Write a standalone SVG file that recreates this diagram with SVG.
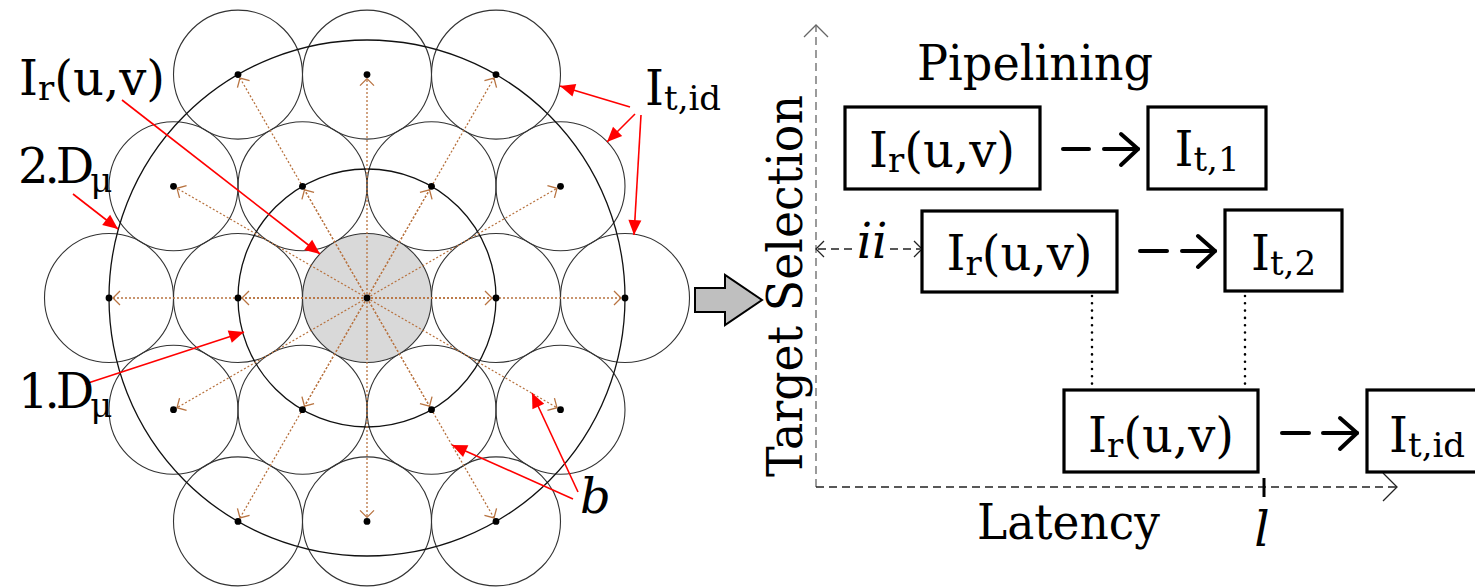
<svg xmlns="http://www.w3.org/2000/svg" width="1475" height="587" viewBox="0 0 1475 587">
<style>
.sc{fill:none;stroke:#333;stroke-width:1.1}
.gray{fill:#d9d9d9;stroke:#333;stroke-width:1.1}
.big{fill:none;stroke:#111;stroke-width:1.3}
.dot{fill:#000}
.br{stroke:#b87340;stroke-width:1.3;stroke-dasharray:2 2;fill:none;marker-end:url(#bh)}
.red{stroke:#f00;stroke-width:1.6;fill:none;marker-end:url(#rh)}
text{font-family:'DejaVu Serif','Liberation Serif',serif;font-size:48px;fill:#000}
.it{font-style:italic}
.box{fill:#fff;stroke:#000;stroke-width:3.2}
.thk{stroke:#000;stroke-width:4;fill:none;stroke-linecap:round;stroke-linejoin:round}
.ax{fill:none;stroke-width:1.3;stroke-dasharray:8 5}
.axh{fill:none;stroke-width:1.3}
.dots{stroke:#000;stroke-width:2.6;stroke-linecap:round;stroke-dasharray:0 7.3;fill:none}
</style>
<defs>
<marker id="bh" markerUnits="userSpaceOnUse" markerWidth="20" markerHeight="20" viewBox="-10 -10 20 20" refX="0" refY="0" orient="auto" overflow="visible"><path d="M-7,-7 L0,0 L-7,7" fill="none" stroke="#b87340" stroke-width="1.3" stroke-dasharray="none"/></marker>
<marker id="rh" markerUnits="userSpaceOnUse" markerWidth="20" markerHeight="20" viewBox="-16 -8 20 16" refX="0" refY="0" orient="auto" overflow="visible"><path d="M0,0 L-15,-6.5 L-15,6.5 z" fill="#f00" stroke="none"/></marker>
</defs>
<rect width="1475" height="587" fill="#fff"/>

<g id="cells">
<circle class="sc" cx="238" cy="74.6" r="64.5"/>
<circle class="sc" cx="367" cy="74.6" r="64.5"/>
<circle class="sc" cx="496" cy="74.6" r="64.5"/>
<circle class="sc" cx="173.5" cy="186.3" r="64.5"/>
<circle class="sc" cx="302.5" cy="186.3" r="64.5"/>
<circle class="sc" cx="431.5" cy="186.3" r="64.5"/>
<circle class="sc" cx="560.5" cy="186.3" r="64.5"/>
<circle class="sc" cx="109" cy="298" r="64.5"/>
<circle class="sc" cx="238" cy="298" r="64.5"/>
<circle class="sc" cx="496" cy="298" r="64.5"/>
<circle class="sc" cx="625" cy="298" r="64.5"/>
<circle class="sc" cx="173.5" cy="409.7" r="64.5"/>
<circle class="sc" cx="302.5" cy="409.7" r="64.5"/>
<circle class="sc" cx="431.5" cy="409.7" r="64.5"/>
<circle class="sc" cx="560.5" cy="409.7" r="64.5"/>
<circle class="sc" cx="238" cy="521.4" r="64.5"/>
<circle class="sc" cx="367" cy="521.4" r="64.5"/>
<circle class="sc" cx="496" cy="521.4" r="64.5"/>
</g>
<g id="center-cell"><circle class="gray" cx="367" cy="298" r="64.5"/></g>
<g id="rings">
<circle class="big" cx="367" cy="298" r="129"/>
<circle class="big" cx="367" cy="298" r="258"/>
</g>
<g id="brown-arrows">
<line class="br" x1="367" y1="298" x2="492" y2="298"/>
<line class="br" x1="367" y1="298" x2="429.5" y2="189.8"/>
<line class="br" x1="367" y1="298" x2="304.5" y2="189.8"/>
<line class="br" x1="367" y1="298" x2="242" y2="298"/>
<line class="br" x1="367" y1="298" x2="304.5" y2="406.2"/>
<line class="br" x1="367" y1="298" x2="429.5" y2="406.2"/>
<line class="br" x1="367" y1="298" x2="621" y2="298"/>
<line class="br" x1="367" y1="298" x2="494" y2="78.1"/>
<line class="br" x1="367" y1="298" x2="240" y2="78.1"/>
<line class="br" x1="367" y1="298" x2="113" y2="298"/>
<line class="br" x1="367" y1="298" x2="240" y2="517.9"/>
<line class="br" x1="367" y1="298" x2="494" y2="517.9"/>
<line class="br" x1="367" y1="298" x2="557" y2="188.3"/>
<line class="br" x1="367" y1="298" x2="367" y2="78.6"/>
<line class="br" x1="367" y1="298" x2="177" y2="188.3"/>
<line class="br" x1="367" y1="298" x2="177" y2="407.7"/>
<line class="br" x1="367" y1="298" x2="367" y2="517.4"/>
<line class="br" x1="367" y1="298" x2="557" y2="407.7"/>
</g>
<g id="dots">
<circle class="dot" cx="367" cy="298" r="3.4"/>
<circle class="dot" cx="238" cy="74.6" r="3.4"/>
<circle class="dot" cx="367" cy="74.6" r="3.4"/>
<circle class="dot" cx="496" cy="74.6" r="3.4"/>
<circle class="dot" cx="173.5" cy="186.3" r="3.4"/>
<circle class="dot" cx="302.5" cy="186.3" r="3.4"/>
<circle class="dot" cx="431.5" cy="186.3" r="3.4"/>
<circle class="dot" cx="560.5" cy="186.3" r="3.4"/>
<circle class="dot" cx="109" cy="298" r="3.4"/>
<circle class="dot" cx="238" cy="298" r="3.4"/>
<circle class="dot" cx="496" cy="298" r="3.4"/>
<circle class="dot" cx="625" cy="298" r="3.4"/>
<circle class="dot" cx="173.5" cy="409.7" r="3.4"/>
<circle class="dot" cx="302.5" cy="409.7" r="3.4"/>
<circle class="dot" cx="431.5" cy="409.7" r="3.4"/>
<circle class="dot" cx="560.5" cy="409.7" r="3.4"/>
<circle class="dot" cx="238" cy="521.4" r="3.4"/>
<circle class="dot" cx="367" cy="521.4" r="3.4"/>
<circle class="dot" cx="496" cy="521.4" r="3.4"/>
</g>
<g id="red-arrows">
<line class="red" x1="122" y1="100" x2="320" y2="254"/>
<line class="red" x1="73" y1="194" x2="118" y2="229"/>
<line class="red" x1="85" y1="384" x2="244" y2="332"/>
<line class="red" x1="630" y1="107" x2="560" y2="86"/>
<line class="red" x1="635" y1="114" x2="607" y2="142"/>
<line class="red" x1="641" y1="115" x2="634" y2="235"/>
<line class="red" x1="578" y1="492" x2="532" y2="393"/>
<line class="red" x1="573" y1="499" x2="452" y2="445"/>
</g>
<g id="left-labels">
<text x="19" y="95">I<tspan font-size="34" dy="5">r</tspan><tspan dy="-5">(u,v)</tspan></text>
<text x="18" y="183"><tspan letter-spacing="-4">2.D</tspan><tspan dy="9" font-size="34">μ</tspan></text>
<text x="18" y="408"><tspan letter-spacing="-4">1.D</tspan><tspan dy="9" font-size="34">μ</tspan></text>
<text x="645" y="105">I<tspan font-size="34" dy="5">t,id</tspan></text>
<text class="it" x="580" y="513" font-size="46">b</text>
</g>
<g id="block-arrow"><polygon points="695,288 725,288 725,275 762,300 725,325 725,312 695,312" fill="#bfbfbf" stroke="#000" stroke-width="2" stroke-linejoin="miter"/></g>

<g id="axes">
<line class="ax" x1="816" y1="487" x2="816" y2="26" stroke="#666"/>
<polyline class="axh" points="804,37 816,25 828,37" stroke="#666"/>
<line class="ax" x1="816" y1="487" x2="1396" y2="487" stroke="#222"/>
<polyline class="axh" points="1383,473 1397,487 1383,501" stroke="#222"/>
<line x1="1264" y1="478" x2="1264" y2="497" stroke="#000" stroke-width="3"/>
<text transform="translate(802,477) rotate(-90)" x="0" y="0" textLength="382" lengthAdjust="spacingAndGlyphs">Target Selection</text>
<text x="977" y="539" textLength="183" lengthAdjust="spacingAndGlyphs">Latency</text>
<text class="it" x="1262" y="546" text-anchor="middle">l</text>
<text x="917" y="80" textLength="236" lengthAdjust="spacingAndGlyphs">Pipelining</text>
</g>

<g id="connectors">
<line class="ax" x1="818" y1="249" x2="855" y2="249" stroke="#222" stroke-width="1.2"/>
<line class="ax" x1="890" y1="249" x2="920" y2="249" stroke="#222" stroke-width="1.2"/>
<polyline class="axh" points="824,241 816,249 824,257" stroke="#222"/>
<polyline class="axh" points="914,241 922,249 914,257" stroke="#222"/>
<text class="it" x="872" y="258" text-anchor="middle">ii</text>
<line class="thk" x1="1063" y1="149" x2="1089" y2="149"/>
<line class="thk" x1="1104" y1="149" x2="1138" y2="149"/>
<polyline class="thk" points="1121,134 1138,149 1121,165"/>
<line class="thk" x1="1140" y1="251" x2="1167" y2="251"/>
<line class="thk" x1="1182" y1="251" x2="1215" y2="251"/>
<polyline class="thk" points="1198,236 1215,251 1198,267"/>
<line class="thk" x1="1282" y1="433" x2="1309" y2="433"/>
<line class="thk" x1="1323" y1="433" x2="1357" y2="433"/>
<polyline class="thk" points="1340,418 1357,433 1340,449"/>
<line class="dots" x1="1092" y1="296" x2="1092" y2="388"/>
<line class="dots" x1="1245" y1="296" x2="1245" y2="388"/>
</g>

<g id="box-r1">
<rect class="box" x="845" y="107" width="195" height="82"/>
<text x="942" y="167" text-anchor="middle">I<tspan font-size="34" dy="5">r</tspan><tspan dy="-5">(u,v)</tspan></text>
</g>
<g id="box-t1">
<rect class="box" x="1148" y="107" width="118" height="82"/>
<text x="1207" y="166" text-anchor="middle">I<tspan font-size="34" dy="5">t,1</tspan></text>
</g>
<g id="box-r2">
<rect class="box" x="922" y="211" width="195" height="81"/>
<text x="1019.5" y="270" text-anchor="middle">I<tspan font-size="34" dy="5">r</tspan><tspan dy="-5">(u,v)</tspan></text>
</g>
<g id="box-t2">
<rect class="box" x="1225" y="210" width="117" height="81"/>
<text x="1283.5" y="270" text-anchor="middle">I<tspan font-size="34" dy="5">t,2</tspan></text>
</g>
<g id="box-r3">
<rect class="box" x="1064" y="390" width="194" height="82"/>
<text x="1161" y="452" text-anchor="middle">I<tspan font-size="34" dy="5">r</tspan><tspan dy="-5">(u,v)</tspan></text>
</g>
<g id="box-tid">
<rect class="box" x="1367" y="390" width="125" height="82"/>
<text x="1389" y="452">I<tspan font-size="34" dy="5">t,id</tspan></text>
</g>
</svg>
